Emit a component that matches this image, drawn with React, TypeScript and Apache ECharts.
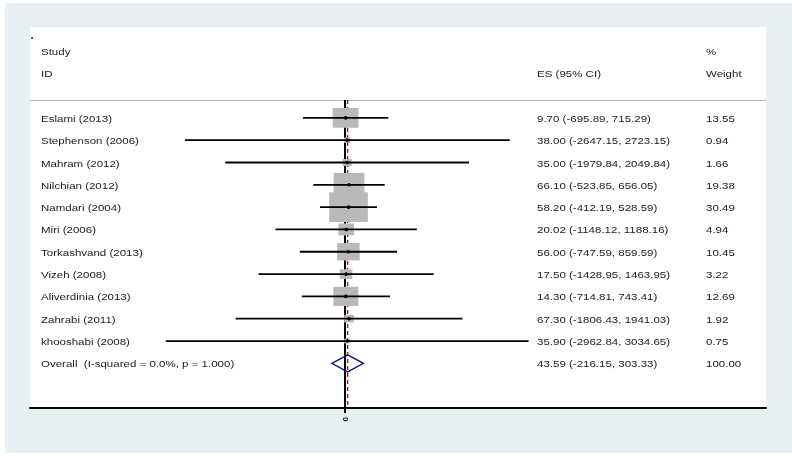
import React, { useEffect, useRef } from "react";
import * as echarts from "echarts";

const studies = [
  "Eslami (2013)",
  "Stephenson (2006)",
  "Mahram (2012)",
  "Nilchian (2012)",
  "Namdari (2004)",
  "Miri (2006)",
  "Torkashvand (2013)",
  "Vizeh (2008)",
  "Aliverdinia (2013)",
  "Zahrabi (2011)",
  "khooshabi (2008)",
];
const es = [9.7, 38.0, 35.0, 66.1, 58.2, 20.02, 56.0, 17.5, 14.3, 67.3, 35.9];
const lo = [-695.89, -2647.15, -1979.84, -523.85, -412.19, -1148.12, -747.59, -1428.95, -714.81, -1806.43, -2962.84];
const hi = [715.29, 2723.15, 2049.84, 656.05, 528.59, 1188.16, 859.59, 1463.95, 743.41, 1941.03, 3034.65];
const weights = [13.55, 0.94, 1.66, 19.38, 30.49, 4.94, 10.45, 3.22, 12.69, 1.92, 0.75];

const overallLabel = "Overall  (I-squared = 0.0%, p = 1.000)";
const overallEs = 43.59;
const overallLo = -216.15;
const overallHi = 303.33;
const overallWeight = 100.0;

const nullValue = 0;
const xTickValues = [0];
const xTickLabels = ["0"];

const Y_MIN = -0.8;
const Y_MAX = 13;

const FONT = "'Liberation Sans', Arial, Helvetica, sans-serif";
const TEXT_COLOR = "#1a1a1a";
const SX = 1.28;

export default function App() {
  const ref = useRef<HTMLDivElement>(null);
  useEffect(() => {
    const chart = echarts.init(ref.current!, null, { renderer: "svg" });
    const labels = [...studies, overallLabel];
    const data = studies.map((_, i) => [i, es[i], lo[i], hi[i], weights[i], 0]);
    data.push([studies.length, overallEs, overallLo, overallHi, overallWeight, 1]);

    const txt = (x: number, y: number, text: string) => ({
      type: "text",
      x,
      y,
      scaleX: SX,
      style: {
        text,
        fontSize: 9,
        fontFamily: FONT,
        fill: TEXT_COLOR,
        verticalAlign: "middle",
        textVerticalAlign: "middle",
      },
    });

    const renderItem = (params: any, api: any) => {
      const row = api.value(0);
      const e = api.value(1);
      const l = api.value(2);
      const h = api.value(3);
      const w = api.value(4);
      const isOverall = api.value(5) === 1;
      const [xe, y] = api.coord([e, row]);
      const xl = api.coord([l, row])[0];
      const xh = api.coord([h, row])[0];
      const children: any[] = [];
      if (!isOverall) {
        const bw = 7.0 * Math.sqrt(w);
        const bh = bw / 1.3;
        children.push({
          type: "rect",
          shape: { x: xe - bw / 2, y: y - bh / 2, width: bw, height: bh },
          style: { fill: "#b9b9b9" },
        });
        children.push({
          type: "line",
          shape: { x1: xl, y1: y, x2: xh, y2: y },
          style: { stroke: "#000", lineWidth: 1.8 },
        });
        children.push({
          type: "circle",
          shape: { cx: xe, cy: y, r: 1.8 },
          style: { fill: "#000" },
        });
      } else {
        children.push({
          type: "polygon",
          shape: { points: [[xl, y], [xe, y - 8.5], [xh, y], [xe, y + 8.5]] },
          style: { fill: "none", stroke: "#1c1c78", lineWidth: 1.5 },
        });
      }
      const idx = params.dataIndex;
      const esText = `${e.toFixed(2)} (${l.toFixed(2)}, ${h.toFixed(2)})`;
      children.push(txt(41, y + 1, labels[idx]));
      children.push(txt(537, y + 1, esText));
      children.push(txt(706, y + 1, w.toFixed(2)));
      return { type: "group", children };
    };

    const renderRefLines = (_params: any, api: any) => {
      const [x0, yTop] = api.coord([nullValue, Y_MIN]);
      const yBot = api.coord([nullValue, Y_MAX])[1];
      const xr = api.coord([overallEs, Y_MIN])[0];
      return {
        type: "group",
        children: [
          {
            type: "line",
            shape: { x1: x0, y1: yTop, x2: x0, y2: yBot },
            style: { stroke: "#000", lineWidth: 2 },
          },
          {
            type: "line",
            shape: { x1: xr, y1: yTop, x2: xr, y2: yBot },
            style: { stroke: "#8b1a1a", lineWidth: 1.3, lineDash: [4, 3] },
          },
        ],
      };
    };

    chart.setOption({
      animation: false,
      grid: { left: 30, right: 26, top: 100, bottom: 48 },
      xAxis: [
        {
          type: "value",
          min: -5207,
          max: 6959,
          position: "bottom",
          splitLine: { show: false },
          axisLine: { show: true, onZero: false, lineStyle: { color: "#000", width: 2 } },
          axisTick: { show: true, length: 5, customValues: xTickValues, lineStyle: { color: "#000", width: 2 } },
          axisLabel: {
            show: true,
            customValues: xTickValues,
            formatter: (v: number) => xTickLabels[xTickValues.indexOf(v)] ?? "",
            rotate: 90,
            fontSize: 8,
            fontWeight: "bold",
            fontFamily: FONT,
            color: "#000",
            margin: 9,
          },
        },
        {
          type: "value",
          min: -5207,
          max: 6959,
          position: "top",
          splitLine: { show: false },
          axisLine: { show: true, onZero: false, lineStyle: { color: "#b4b4b4", width: 1 } },
          axisTick: { show: false },
          axisLabel: { show: false },
        },
      ],
      yAxis: {
        type: "value",
        min: Y_MIN,
        max: Y_MAX,
        inverse: true,
        show: false,
      },
      graphic: [
        { type: "rect", z: -20, shape: { x: 5, y: 3, width: 787, height: 450 }, style: { fill: "#e9f0f3" } },
        { type: "rect", z: -10, shape: { x: 30, y: 27, width: 736, height: 381 }, style: { fill: "#ffffff" } },
        { type: "circle", shape: { cx: 32, cy: 38, r: 0.9 }, style: { fill: "#000" } },
        { ...txt(41, 52, "Study") },
        { ...txt(41, 74, "ID") },
        { ...txt(537, 74, "ES (95% CI)") },
        { ...txt(706, 52, "%") },
        { ...txt(706, 74, "Weight") },
      ],
      series: [
        {
          type: "custom",
          z: 1,
          silent: true,
          renderItem: renderRefLines,
          data: [[nullValue, Y_MIN]],
          encode: { x: 0, y: 1 },
        },
        {
          type: "custom",
          z: 3,
          silent: true,
          renderItem,
          data,
          encode: { x: [1, 2, 3], y: 0 },
        },
      ],
    });
    return () => chart.dispose();
  }, []);
  return <div ref={ref} style={{ position: "fixed", left: 0, top: 0, width: 792, height: 456 }} />;
}
